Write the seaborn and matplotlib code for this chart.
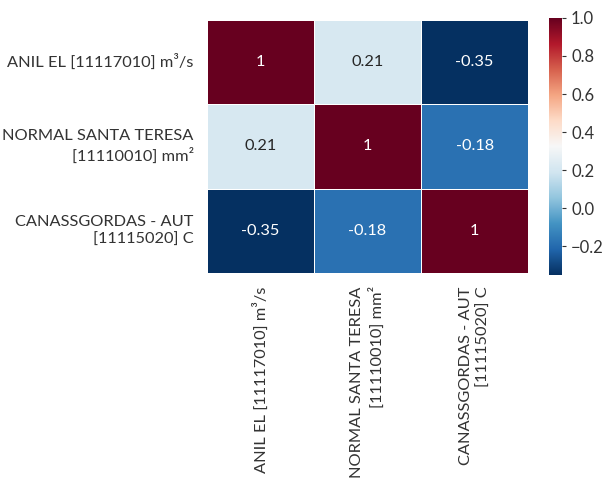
import pandas as pd
import matplotlib
matplotlib.use("Agg")
import matplotlib.pyplot as plt
import seaborn as sns

labels = ["ANIL EL [11117010] m³/s",
          "NORMAL SANTA TERESA\n[11110010] mm²",
          "CANASSGORDAS - AUT\n[11115020] C"]
row_anil = [1.0, 0.21, -0.35]
row_normal = [0.21, 1.0, -0.18]
row_canas = [-0.35, -0.18, 1.0]

corr = pd.DataFrame([row_anil, row_normal, row_canas], index=labels, columns=labels)

sns.set_style("white")
plt.rcParams["font.family"] = ["Lato", "DejaVu Sans"]
plt.rcParams["text.color"] = "#333333"
plt.rcParams["xtick.color"] = "#333333"
plt.rcParams["ytick.color"] = "#333333"

fig = plt.figure(figsize=(6.03, 4.84), dpi=100)
ax = fig.add_axes([0.343, 0.436, 0.533, 0.523])
cax = fig.add_axes([0.910, 0.432, 0.022, 0.531])

sns.heatmap(corr, ax=ax, cbar_ax=cax, cmap="RdBu_r", annot=True,
            linewidths=0.6, linecolor="white",
            annot_kws={"fontsize": 11.8})

ax.tick_params(axis="both", length=6, width=1, labelsize=11.8, color="#333333")
for t in ax.get_yticklabels():
    t.set_rotation(0)
    t.set_multialignment("right")
    t.set_linespacing(1.35)
for t in ax.get_xticklabels():
    t.set_rotation(90)
    t.set_multialignment("right")
    t.set_linespacing(1.35)

cax.tick_params(labelsize=12, length=3)
cax.set_yticks([-0.2, 0.0, 0.2, 0.4, 0.6, 0.8, 1.0])
for s in cax.spines.values():
    s.set_visible(False)

fig.savefig("out.png", dpi=100)
